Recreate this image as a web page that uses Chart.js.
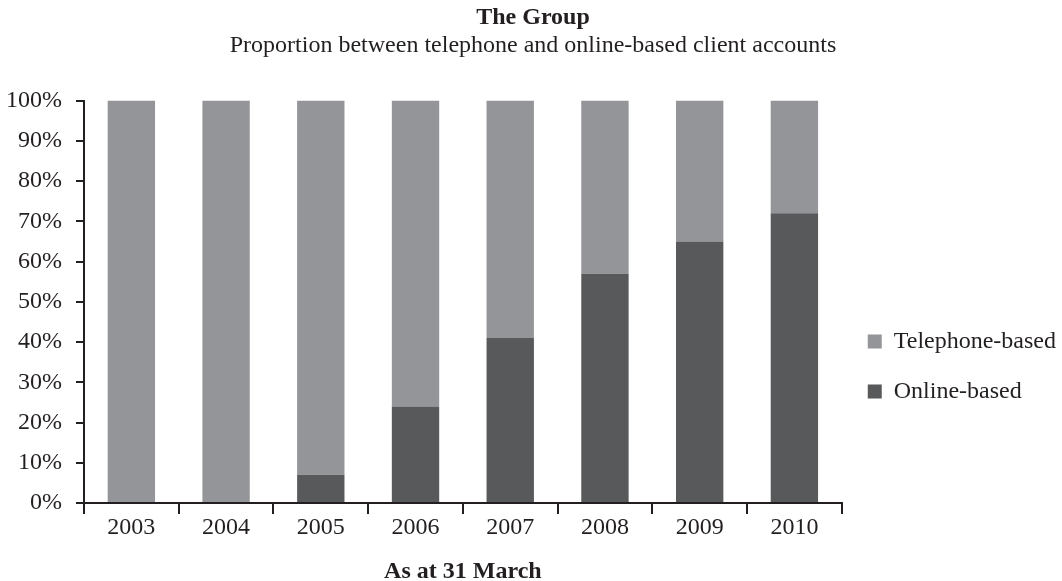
<!DOCTYPE html>
<html>
<head>
<meta charset="utf-8">
<script src="https://cdn.jsdelivr.net/npm/chart.js@4.4.1/dist/chart.umd.min.js"></script>
<style>
    body { margin: 0; background: #fff; }
    #wrap { width: 1062px; height: 581px; position: relative; }
</style>
</head>
<body>
<div id="wrap"><canvas id="myChart"></canvas></div>
<script>
// years on the x axis
const years = ['2003', '2004', '2005', '2006', '2007', '2008', '2009', '2010'];
// share of online-based accounts (%)
const onlineShare = [0, 0, 7, 24, 41, 57, 65, 72];
// the rest is telephone-based
const telephoneShare = [100, 100, 93, 76, 59, 43, 35, 28];
const yTicks = [0, 10, 20, 30, 40, 50, 60, 70, 80, 90, 100];

const serif = "'Liberation Serif', 'Times New Roman', serif";
const textColor = '#231f20';

Chart.defaults.font.family = serif;
Chart.defaults.color = textColor;

function drawChart() {
    const ctx = document.getElementById('myChart').getContext('2d');

    window.myChart = new Chart(ctx, {
        type: 'bar',
        data: {
            labels: years,
            datasets: [
                {
                    label: 'Online-based',
                    data: onlineShare,
                    backgroundColor: '#58595b',
                    borderWidth: 0,
                    barPercentage: 0.5,
                    categoryPercentage: 1
                },
                {
                    label: 'Telephone-based',
                    data: telephoneShare,
                    backgroundColor: '#949598',
                    borderWidth: 0,
                    barPercentage: 0.5,
                    categoryPercentage: 1
                }
            ]
        },
        options: {
            responsive: true,
            maintainAspectRatio: false,
            animation: false,
            layout: {
                padding: { left: 0, right: -4, top: 0, bottom: 0 }
            },
            plugins: {
                title: {
                    display: true,
                    text: 'The Group',
                    font: { size: 24, weight: 'bold', family: serif, lineHeight: 1.2 },
                    color: textColor,
                    padding: { top: 3, bottom: 0 }
                },
                subtitle: {
                    display: true,
                    text: 'Proportion between telephone and online-based client accounts',
                    font: { size: 24, family: serif, lineHeight: 1.2 },
                    color: textColor,
                    padding: { top: 0, bottom: 40 }
                },
                legend: {
                    position: 'right',
                    align: 'center',
                    fullSize: false,
                    reverse: true,
                    title: {
                        display: true,
                        text: '',
                        padding: { top: 115, bottom: 0 }
                    },
                    labels: {
                        boxWidth: 14,
                        boxHeight: 14,
                        padding: 26,
                        font: { size: 24, family: serif },
                        color: textColor
                    }
                },
                tooltip: { enabled: false }
            },
            scales: {
                x: {
                    stacked: true,
                    offset: true,
                    grid: {
                        offset: true,
                        drawOnChartArea: false,
                        drawTicks: true,
                        tickLength: 11,
                        color: '#231f20',
                        lineWidth: 2
                    },
                    border: { color: '#231f20', width: 2 },
                    ticks: {
                        padding: 2,
                        font: { size: 24, family: serif, lineHeight: 1 },
                        color: textColor
                    },
                    title: {
                        display: true,
                        text: 'As at 31 March',
                        font: { size: 24, weight: 'bold', family: serif, lineHeight: 1 },
                        color: textColor,
                        padding: { top: 18, bottom: -3 }
                    }
                },
                y: {
                    stacked: true,
                    min: 0,
                    max: 100,
                    afterBuildTicks: function (axis) {
                        axis.ticks = yTicks.map((v) => ({ value: v }));
                    },
                    afterFit: function (axis) {
                        // keep the axis line where the reference has it
                        axis.width = 84;
                    },
                    grid: {
                        drawOnChartArea: false,
                        drawTicks: true,
                        tickLength: 8,
                        color: '#231f20',
                        lineWidth: 2
                    },
                    border: { color: '#231f20', width: 2 },
                    ticks: {
                        padding: 14,
                        font: { size: 24, family: serif },
                        color: textColor,
                        callback: function (value) {
                            return value + '%';
                        }
                    }
                }
            }
        }
    });
}

document.addEventListener('DOMContentLoaded', function () {
    drawChart();
});
</script>
</body>
</html>
